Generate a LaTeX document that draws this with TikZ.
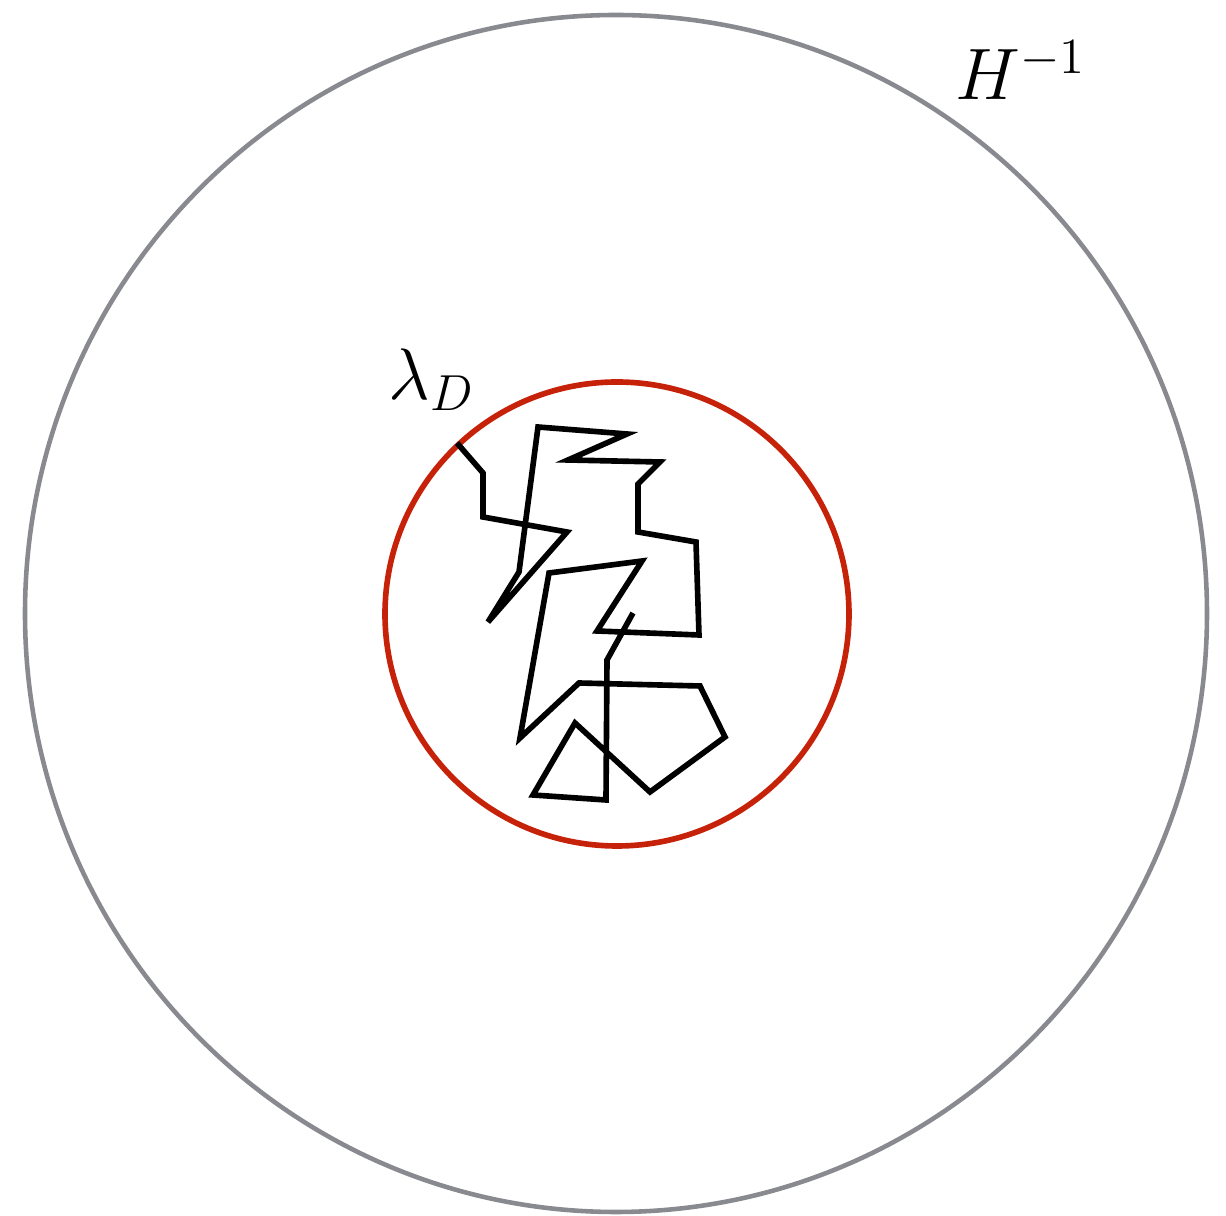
\documentclass[tikz,border=0pt]{standalone}
\usepackage{amsmath}
\usepackage{tikz}
\usetikzlibrary{positioning, calc}
\definecolor{horizongray}{RGB}{136, 138, 144}
\definecolor{debyered}  {RGB}{198,  34,  10}
\tikzset{
	walk/.style={line width=1.6pt, black, line join=miter},
	biglabel/.style={inner sep=0pt, font=\fontsize{21}{25}\selectfont}
}
\begin{document}
\begin{tikzpicture}[x=0.01cm, y=-0.01cm]
	\useasboundingbox (0,0) rectangle (1226,1216);
	% Hubble horizon and Debye sphere
	\draw[line width=1.3pt, horizongray] (616,613.5) ellipse [x radius=591, y radius=598.5];
	\draw[line width=1.6pt, debyered] (617,614) circle [radius=232];
	% random walk inside the Debye sphere
	\draw[walk] (457,443)--(483,473)--(483,517)--(567,532)--(488,622)--(519,572)
		--(538,427)--(627,434)--(568,460)--(660,462)--(638,484)--(638,532)
		--(696,542)--(699,635)--(597,631)--(642,561)--(549,573)--(520,738)
		--(579,683)--(700,686)--(725,737)--(650,792)--(575,723)--(533,795)
		--(606,800)--(607,660)--(633,613);
	\node[biglabel, anchor=base west] (hubble) at (955,100) {$H^{-1}$};
	\node[biglabel, anchor=base west] (debye) at (388,400) {$\lambda_D$};
\end{tikzpicture}
\end{document}
